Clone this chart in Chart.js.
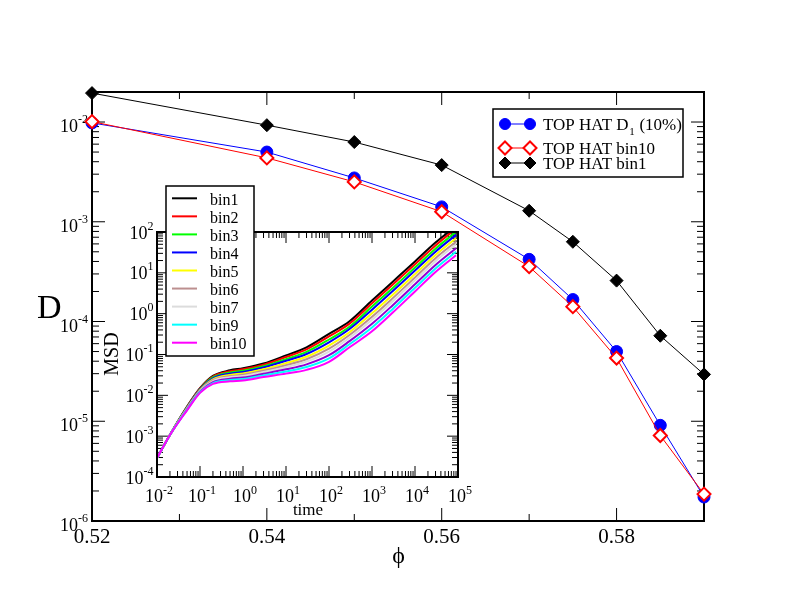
<!DOCTYPE html>
<html><head><meta charset="utf-8">
<script src="https://cdn.jsdelivr.net/npm/chart.js@4"></script>
<style>
html,body{margin:0;padding:0;background:#fff;}
#wrap{position:relative;width:792px;height:612px;}
canvas{position:absolute;left:0;top:0;}
</style></head><body>
<div id="wrap"><canvas id="main" width="792" height="612"></canvas><canvas id="inset" width="792" height="612"></canvas></div>
<script>
// ---------- main plot data ----------
const phi = [0.52, 0.54, 0.55, 0.56, 0.57, 0.575, 0.58, 0.585, 0.59];
const dTopHatD1 = [0.0098, 0.0050, 0.00275, 0.00141, 4.2e-4, 1.66e-4, 5.0e-5, 9.1e-6, 1.74e-6];
const dTopHatBin10 = [0.0101, 0.00437, 0.00251, 0.00126, 3.55e-4, 1.41e-4, 4.3e-5, 7.2e-6, 1.86e-6];
const dTopHatBin1 = [0.0195, 0.0093, 0.0063, 0.0037, 0.00129, 6.3e-4, 2.57e-4, 7.2e-5, 2.95e-5];
const mainLabels = ['TOP HAT D', 'TOP HAT bin10', 'TOP HAT bin1'];
const mainXMajor = [0.52, 0.54, 0.56, 0.58];
const mainXMinor = [0.53, 0.55, 0.57, 0.59];
const mainXTickLabels = ['0.52', '0.54', '0.56', '0.58'];
const mainYMajor = [1e-6, 1e-5, 1e-4, 1e-3, 1e-2];
const mainYExp = ['-6', '-5', '-4', '-3', '-2'];

// ---------- inset data (MSD vs time) ----------
const time = [0.01, 0.02, 0.05, 0.1, 0.2, 0.5, 1, 3, 10, 30, 100, 300, 1000, 3000, 1e4, 3e4, 9e4];
const msdBin1 = [2.9e-4, 1.08e-3, 5.3e-3, 0.015, 0.030, 0.041, 0.046, 0.060, 0.095, 0.15, 0.32, 0.65, 2.1, 6.0, 19, 55, 140];
const msdBin2 = [2.9e-4, 1.08e-3, 5.2e-3, 0.0147, 0.0288, 0.0388, 0.0433, 0.056, 0.087, 0.134, 0.277, 0.57, 1.8, 5.1, 16.3, 47, 121];
const msdBin3 = [2.9e-4, 1.08e-3, 5.1e-3, 0.0142, 0.0274, 0.0362, 0.0401, 0.0515, 0.077, 0.116, 0.233, 0.48, 1.49, 4.2, 13.5, 39, 101];
const msdBin4 = [2.9e-4, 1.07e-3, 5.0e-3, 0.0139, 0.0261, 0.034, 0.0374, 0.048, 0.070, 0.103, 0.199, 0.42, 1.25, 3.55, 11.4, 33, 85];
const msdBin5 = [2.9e-4, 1.07e-3, 4.85e-3, 0.0134, 0.0247, 0.0316, 0.0344, 0.0436, 0.0615, 0.088, 0.165, 0.35, 1.02, 2.88, 9.3, 27.4, 70];
const msdBin6 = [2.9e-4, 1.07e-3, 4.74e-3, 0.013, 0.0235, 0.0295, 0.0319, 0.040, 0.0548, 0.0766, 0.139, 0.30, 0.84, 2.37, 7.7, 22.8, 58];
const msdBin7 = [2.9e-4, 1.07e-3, 4.65e-3, 0.0127, 0.0224, 0.0277, 0.0298, 0.0372, 0.0494, 0.0675, 0.118, 0.257, 0.71, 1.99, 6.55, 19.3, 50];
const msdBin8 = [2.9e-4, 1.07e-3, 4.53e-3, 0.0123, 0.0211, 0.0256, 0.0272, 0.0337, 0.0433, 0.0573, 0.096, 0.212, 0.565, 1.59, 5.25, 15.6, 40];
const msdBin9 = [2.9e-4, 1.07e-3, 4.42e-3, 0.0119, 0.020, 0.0237, 0.0251, 0.0308, 0.0382, 0.0492, 0.080, 0.178, 0.46, 1.29, 4.29, 12.8, 33];
const msdBin10 = [2.9e-4, 1.07e-3, 4.3e-3, 0.0115, 0.019, 0.022, 0.023, 0.028, 0.034, 0.042, 0.066, 0.15, 0.37, 1.05, 3.5, 10.5, 27];
const binNames = ['bin1','bin2','bin3','bin4','bin5','bin6','bin7','bin8','bin9','bin10'];
const binSeries = [msdBin1, msdBin2, msdBin3, msdBin4, msdBin5, msdBin6, msdBin7, msdBin8, msdBin9, msdBin10];
const binColors = ['#000000','#ff0000','#00ff00','#0000ff','#ffff00','#bc8f8f','#dcdcdc','#9400d3','#00ffff','#ff00ff'];
const insetLegendBins = ['bin1','bin2','bin3','bin4','bin5','bin6','bin7','bin9','bin10'];
const insetXMajor = [1e-2, 1e-1, 1e0, 1e1, 1e2, 1e3, 1e4, 1e5];
const insetXExp = ['-2', '-1', '0', '1', '2', '3', '4', '5'];
const insetYMajor = [1e-4, 1e-3, 1e-2, 1e-1, 1e0, 1e1, 1e2];
const insetYExp = ['-4', '-3', '-2', '-1', '0', '1', '2'];

const SERIF = '"Liberation Serif", "Times New Roman", serif';

function logMinor(min, max) {
  const out = [];
  for (let e = Math.floor(Math.log10(min)); e <= Math.ceil(Math.log10(max)); e++) {
    for (let k = 2; k <= 9; k++) {
      const v = k * Math.pow(10, e);
      if (v > min * 1.0001 && v <= max * 1.0001) out.push(v);
    }
  }
  return out;
}

function drawTicks(ctx, scale, values, len, side, a) {
  ctx.beginPath();
  for (const v of values) {
    const p = scale.getPixelForValue(v);
    if (side === 'bottom') { ctx.moveTo(p, a.bottom); ctx.lineTo(p, a.bottom - len); }
    else if (side === 'top') { ctx.moveTo(p, a.top); ctx.lineTo(p, a.top + len); }
    else if (side === 'left') { ctx.moveTo(a.left, p); ctx.lineTo(a.left + len, p); }
    else { ctx.moveTo(a.right, p); ctx.lineTo(a.right - len, p); }
  }
  ctx.stroke();
}

function drawPow(ctx, base, exp, x, y, align, baseFont, supFont, rise) {
  ctx.font = baseFont; const wb = ctx.measureText(base).width;
  ctx.font = supFont; const ws = ctx.measureText(exp).width;
  let x0 = align === 'right' ? x - wb - ws : (align === 'center' ? x - (wb + ws) / 2 : x);
  ctx.textAlign = 'left'; ctx.textBaseline = 'alphabetic';
  ctx.font = baseFont; ctx.fillText(base, x0, y);
  ctx.font = supFont; ctx.fillText(exp, x0 + wb, y - rise);
}

function marker(ctx, style, x, y, r, fill, stroke, lw) {
  ctx.beginPath();
  if (style === 'circle') ctx.arc(x, y, r, 0, Math.PI * 2);
  else { ctx.moveTo(x - r, y); ctx.lineTo(x, y - r); ctx.lineTo(x + r, y); ctx.lineTo(x, y + r); ctx.closePath(); }
  ctx.fillStyle = fill; ctx.fill();
  ctx.lineWidth = lw; ctx.strokeStyle = stroke; ctx.stroke();
}

const mainDecor = {
  id: 'mainDecor',
  beforeDatasetsDraw(chart) {
    const { ctx, chartArea: a, scales: { x, y } } = chart;
    ctx.save();
    ctx.strokeStyle = '#000';
    ctx.lineWidth = 2;
    ctx.strokeRect(a.left, a.top, a.right - a.left, a.bottom - a.top);
    ctx.lineWidth = 1;
    drawTicks(ctx, x, mainXMajor, 13, 'bottom', a);
    drawTicks(ctx, x, mainXMinor, 7, 'bottom', a);
    drawTicks(ctx, x, mainXMajor, 13, 'top', a);
    drawTicks(ctx, x, mainXMinor, 7, 'top', a);
    const yMinor = logMinor(y.min, y.max);
    drawTicks(ctx, y, mainYMajor, 13, 'left', a);
    drawTicks(ctx, y, yMinor, 7, 'left', a);
    drawTicks(ctx, y, mainYMajor, 13, 'right', a);
    drawTicks(ctx, y, yMinor, 7, 'right', a);
    ctx.fillStyle = '#000';
    ctx.font = '21px ' + SERIF; ctx.textAlign = 'center'; ctx.textBaseline = 'alphabetic';
    mainXMajor.forEach((v, i) => ctx.fillText(mainXTickLabels[i], x.getPixelForValue(v), 543));
    mainYMajor.forEach((v, i) => drawPow(ctx, '10', mainYExp[i], 88, y.getPixelForValue(v) + 10, 'right', '18px ' + SERIF, '12px ' + SERIF, 9));
    ctx.font = '34px ' + SERIF; ctx.textAlign = 'left'; ctx.textBaseline = 'alphabetic';
    ctx.fillText('D', 37, 318);
    ctx.font = '24px ' + SERIF; ctx.textAlign = 'center'; ctx.textBaseline = 'middle';
    ctx.fillText('ϕ', 398.5, 557);
    ctx.restore();
  },
  afterDraw(chart) {
    const { ctx } = chart;
    ctx.save();
    ctx.fillStyle = '#fff';
    ctx.fillRect(493, 109, 190, 68);
    ctx.strokeStyle = '#000'; ctx.lineWidth = 1.5;
    ctx.strokeRect(493, 109, 190, 68);
    const rows = [124, 148, 163];
    chart.data.datasets.forEach((ds, i) => {
      const yy = rows[i];
      ctx.beginPath(); ctx.moveTo(505, yy); ctx.lineTo(530, yy);
      ctx.strokeStyle = ds.borderColor; ctx.lineWidth = 1; ctx.stroke();
      [505, 530].forEach(xx => marker(ctx, ds.pointStyle === 'circle' ? 'circle' : 'diamond', xx, yy,
        ds.legendRadius, ds.pointBackgroundColor, ds.pointBorderColor, ds.pointBorderWidth));
      ctx.fillStyle = '#000'; ctx.textAlign = 'left'; ctx.textBaseline = 'alphabetic';
      ctx.font = '17px ' + SERIF;
      ctx.fillText(ds.label, 543, yy + 6);
      if (ds.subText) {
        const w = ctx.measureText(ds.label).width;
        ctx.font = '11px ' + SERIF;
        ctx.fillText(ds.subText, 543 + w + 0.5, yy + 11);
        const w2 = ctx.measureText(ds.subText).width;
        ctx.font = '17px ' + SERIF;
        ctx.fillText(ds.afterText, 543 + w + w2 + 1, yy + 6);
      }
    });
    ctx.restore();
  }
};

new Chart(document.getElementById('main'), {
  type: 'line',
  data: {
    datasets: [
      { label: mainLabels[0], subText: '1', afterText: ' (10%)', data: phi.map((p, i) => ({ x: p, y: dTopHatD1[i] })),
        borderColor: '#0000ff', borderWidth: 1, pointStyle: 'circle', pointRadius: 6, legendRadius: 5.5,
        pointBackgroundColor: '#0000ff', pointBorderColor: '#0000ff', pointBorderWidth: 1, order: 2, clip: false },
      { label: mainLabels[1], data: phi.map((p, i) => ({ x: p, y: dTopHatBin10[i] })),
        borderColor: '#ff0000', borderWidth: 1, pointStyle: 'rectRot', pointRadius: 6.5, legendRadius: 6.5,
        pointBackgroundColor: '#ffffff', pointBorderColor: '#ff0000', pointBorderWidth: 2, order: 1, clip: false },
      { label: mainLabels[2], data: phi.map((p, i) => ({ x: p, y: dTopHatBin1[i] })),
        borderColor: '#000000', borderWidth: 1, pointStyle: 'rectRot', pointRadius: 6.5, legendRadius: 6,
        pointBackgroundColor: '#000000', pointBorderColor: '#000000', pointBorderWidth: 1, order: 0, clip: false }
    ]
  },
  options: {
    responsive: false, animation: false, devicePixelRatio: 1,
    layout: { padding: { left: 92, top: 92, right: 88, bottom: 91 } },
    scales: {
      x: { type: 'linear', min: 0.52, max: 0.59, display: false },
      y: { type: 'logarithmic', min: 1e-6, max: 2e-2, display: false }
    },
    elements: { line: { fill: false, tension: 0 } },
    plugins: { legend: { display: false }, tooltip: { enabled: false } }
  },
  plugins: [mainDecor]
});

const insetDecor = {
  id: 'insetDecor',
  beforeDatasetsDraw(chart) {
    const { ctx, chartArea: a, scales: { x, y } } = chart;
    ctx.save();
    ctx.strokeStyle = '#000';
    ctx.lineWidth = 1;
    const xMinor = logMinor(x.min, x.max), yMinor = logMinor(y.min, y.max);
    drawTicks(ctx, x, insetXMajor, 11, 'bottom', a);
    drawTicks(ctx, x, xMinor, 6, 'bottom', a);
    drawTicks(ctx, x, insetXMajor, 11, 'top', a);
    drawTicks(ctx, x, xMinor, 6, 'top', a);
    drawTicks(ctx, y, insetYMajor, 11, 'left', a);
    drawTicks(ctx, y, yMinor, 6, 'left', a);
    drawTicks(ctx, y, insetYMajor, 11, 'right', a);
    drawTicks(ctx, y, yMinor, 6, 'right', a);
    ctx.restore();
  },
  afterDraw(chart) {
    const { ctx, chartArea: a, scales: { x, y } } = chart;
    ctx.save();
    ctx.strokeStyle = '#000'; ctx.lineWidth = 2;
    ctx.strokeRect(a.left, a.top, a.right - a.left, a.bottom - a.top);
    ctx.fillStyle = '#000';
    insetXMajor.forEach((v, i) => drawPow(ctx, '10', insetXExp[i], x.getPixelForValue(v) + 2, 502, 'center', '18px ' + SERIF, '12px ' + SERIF, 8.5));
    insetYMajor.forEach((v, i) => drawPow(ctx, '10', insetYExp[i], 153.5, y.getPixelForValue(v) + 6.5, 'right', '18px ' + SERIF, '12px ' + SERIF, 9));
    ctx.font = '17px ' + SERIF; ctx.textAlign = 'center'; ctx.textBaseline = 'alphabetic';
    ctx.fillText('time', 308, 515);
    ctx.save();
    ctx.translate(117.5, 354); ctx.rotate(-Math.PI / 2);
    ctx.font = '20px ' + SERIF; ctx.textAlign = 'center'; ctx.textBaseline = 'alphabetic';
    ctx.fillText('MSD', 0, 0);
    ctx.restore();
    // legend
    ctx.fillStyle = '#fff';
    ctx.fillRect(166, 186, 88, 170);
    ctx.strokeStyle = '#000'; ctx.lineWidth = 1.5;
    ctx.strokeRect(166, 186, 88, 170);
    insetLegendBins.forEach((name, i) => {
      const ds = chart.data.datasets.find(d => d.label === name);
      const yy = 198.3 + i * 18.05;
      ctx.beginPath(); ctx.moveTo(172, yy); ctx.lineTo(197, yy);
      ctx.strokeStyle = ds.borderColor; ctx.lineWidth = 2; ctx.stroke();
      ctx.fillStyle = '#000'; ctx.font = '16px ' + SERIF; ctx.textAlign = 'left'; ctx.textBaseline = 'alphabetic';
      ctx.fillText(name, 210, yy + 6.5);
    });
    ctx.restore();
  }
};

new Chart(document.getElementById('inset'), {
  type: 'line',
  data: {
    datasets: binNames.map((n, i) => ({
      label: n,
      data: time.map((t, j) => ({ x: t, y: binSeries[i][j] })),
      borderColor: binColors[i], borderWidth: 2, pointRadius: 0,
      cubicInterpolationMode: 'monotone', order: binNames.length - 1 - i
    }))
  },
  options: {
    responsive: false, animation: false, devicePixelRatio: 1,
    layout: { padding: { left: 157, top: 232, right: 334, bottom: 135 } },
    scales: {
      x: { type: 'logarithmic', min: 1e-2, max: 1e5, display: false },
      y: { type: 'logarithmic', min: 1e-4, max: 1e2, display: false }
    },
    elements: { line: { fill: false } },
    plugins: { legend: { display: false }, tooltip: { enabled: false } }
  },
  plugins: [insetDecor]
});
</script>
</body></html>
